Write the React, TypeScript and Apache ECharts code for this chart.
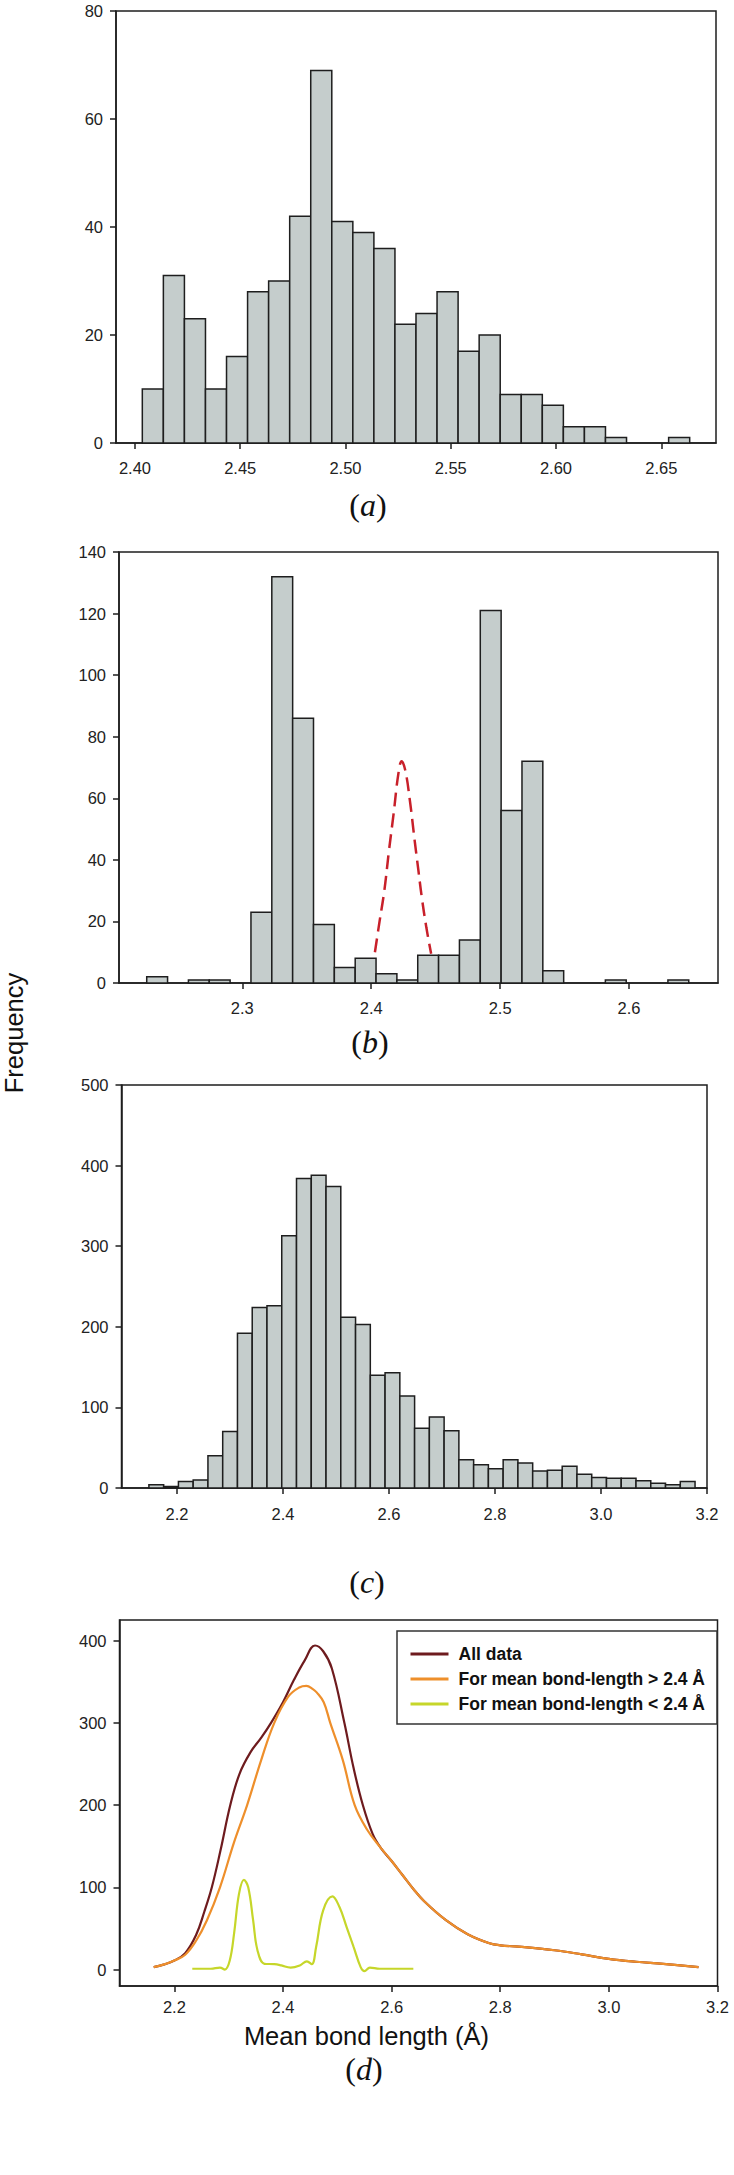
import React, { useEffect, useRef } from "react";
import * as echarts from "echarts";

// ---------- Panel (a) ----------
const aBinStart = 2.4035;
const aBinWidth = 0.01;
const aCounts = [10, 31, 23, 10, 16, 28, 30, 42, 69, 41, 39, 36, 22, 24, 28, 17, 20, 9, 9, 7, 3, 3, 1, 0, 0, 1];
const aXTicks = [2.4, 2.45, 2.5, 2.55, 2.6, 2.65];

// ---------- Panel (b) ----------
const bBinStart = 2.2259;
const bBinWidth = 0.01617;
const bCounts = [2, 0, 1, 1, 0, 23, 132, 86, 19, 5, 8, 3, 1, 9, 9, 14, 121, 56, 72, 4, 0, 0, 1, 0, 0, 1];
const bXTicks = [2.3, 2.4, 2.5, 2.6];
const bFitX = [2.4029, 2.4065, 2.4102, 2.4138, 2.4174, 2.4211, 2.4236, 2.4265, 2.4301, 2.4338, 2.4365, 2.4392, 2.4428, 2.4465];
const bFitY = [10, 20, 30, 43, 55, 68, 72, 69, 59, 46, 37, 28, 18, 9.5];

// ---------- Panel (c) ----------
const cBinStart = 2.147;
const cBinWidth = 0.02785;
const cCounts = [4, 2, 8, 10, 40, 70, 192, 224, 226, 313, 384, 388, 374, 212, 203, 140, 143, 114, 74, 88, 71, 35, 29, 24, 35, 31, 21, 22, 27, 17, 13, 12, 12, 9, 6, 4, 8];
const cXTicks = [2.2, 2.4, 2.6, 2.8, 3.0, 3.2];

// ---------- Panel (d) ----------
const dXTicks = [2.2, 2.4, 2.6, 2.8, 3.0, 3.2];
const dYTicks = [0, 100, 200, 300, 400];
const allX = [2.162, 2.18, 2.2, 2.22, 2.24, 2.255, 2.269, 2.285, 2.303, 2.32, 2.34, 2.36, 2.378, 2.4, 2.42, 2.44, 2.459, 2.474, 2.49, 2.513, 2.53, 2.547, 2.565, 2.58, 2.6, 2.62, 2.64, 2.66, 2.7, 2.74, 2.78, 2.8, 2.85, 2.9, 2.95, 3.0, 3.05, 3.1, 3.165];
const allY = [3, 6, 11, 20, 42, 70, 100, 145, 200, 238, 264, 282, 300, 325, 352, 376, 394, 387, 366, 300, 245, 200, 165, 148, 132, 115, 98, 83, 60, 43, 32, 29.5, 27, 23.5, 18.5, 13, 9.5, 7, 3];
const gtX = [2.162, 2.18, 2.2, 2.22, 2.24, 2.26, 2.284, 2.31, 2.334, 2.36, 2.384, 2.41, 2.43, 2.443, 2.455, 2.462, 2.475, 2.487, 2.51, 2.532, 2.555, 2.58, 2.6, 2.62, 2.64, 2.66, 2.7, 2.74, 2.78, 2.8, 2.85, 2.9, 2.95, 3.0, 3.05, 3.1, 3.165];
const gtY = [3, 6, 11, 18, 35, 60, 100, 155, 200, 255, 300, 332, 343, 345, 341, 337, 325, 300, 255, 200, 170, 148, 132, 115, 98, 83, 60, 43, 32, 29.5, 27, 23.5, 18.5, 13, 9.5, 7, 3];
const ltX = [2.233, 2.267, 2.284, 2.293, 2.302, 2.31, 2.319, 2.328, 2.336, 2.345, 2.353, 2.366, 2.384, 2.397, 2.414, 2.431, 2.444, 2.453, 2.461, 2.474, 2.491, 2.504, 2.517, 2.53, 2.543, 2.55, 2.56, 2.578, 2.64];
const ltY = [1, 1, 2.4, 0, 11, 44, 92, 109, 100, 60, 23.5, 7, 6.5, 5, 2.4, 5, 10, 6.5, 27.5, 72, 89, 76, 52, 27.5, 3, -2, 2.4, 1, 1];

const seriesNames = ["All data", "For mean bond-length > 2.4 \u00c5", "For mean bond-length < 2.4 \u00c5"];
const xTitle = "Mean bond length (\u00c5)";
const yTitle = "Frequency";

const FONT = "Arial, 'Liberation Sans', sans-serif";
const SERIF = "'Liberation Serif', 'Times New Roman', serif";
const BAR_FILL = "#c5cdcc";
const INK = "#1e1e1e";

function zip(xs: number[], ys: number[]) {
  return xs.map((x, i) => [x, ys[i]]);
}

function histSeries(idx: number, start: number, width: number, counts: number[]) {
  return {
    type: "custom",
    xAxisIndex: idx,
    yAxisIndex: idx,
    silent: true,
    data: counts.map((c, k) => [start + k * width, start + (k + 1) * width, c]),
    encode: { x: [0, 1], y: 2 },
    renderItem: (params: any, api: any) => {
      const x0 = api.value(0);
      const x1 = api.value(1);
      const v = api.value(2);
      if (!v) return { type: "group", children: [] };
      const p0 = api.coord([x0, v]);
      const p1 = api.coord([x1, 0]);
      return {
        type: "rect",
        shape: { x: p0[0], y: p0[1], width: p1[0] - p0[0], height: p1[1] - p0[1] },
        style: { fill: BAR_FILL, stroke: INK, lineWidth: 1.5 },
      };
    },
  };
}

function xAxis(idx: number, min: number, max: number, ticks: number[], digits: number, margin: number) {
  return {
    type: "value",
    gridIndex: idx,
    min,
    max,
    splitLine: { show: false },
    axisLine: { show: true, onZero: false, lineStyle: { color: INK, width: 1.5 } },
    axisTick: { show: true, inside: false, length: 6, customValues: ticks, lineStyle: { color: INK, width: 1.5 } },
    axisLabel: {
      show: true,
      customValues: ticks,
      margin,
      fontSize: 16.5,
      fontFamily: FONT,
      color: "#222",
      formatter: (v: number) => v.toFixed(digits),
    },
  };
}

function yAxis(idx: number, min: number, max: number, extra: any = {}) {
  return {
    type: "value",
    gridIndex: idx,
    min,
    max,
    splitLine: { show: false },
    axisLine: { show: true, onZero: false, lineStyle: { color: INK, width: 1.5 } },
    axisTick: { show: true, inside: false, length: 6, lineStyle: { color: INK, width: 1.5 } },
    axisLabel: { show: true, margin: 13, fontSize: 16.5, fontFamily: FONT, color: "#222" },
    ...extra,
  };
}

function panelLabel(letter: string, x: number, y: number) {
  return {
    type: "text",
    x,
    y,
    style: {
      text: "({i|" + letter + "})",
      font: "32px " + SERIF,
      fill: "#111",
      align: "center",
      verticalAlign: "middle",
      rich: { i: { fontStyle: "italic", fontSize: 32, fontFamily: SERIF, fill: "#111" } },
    },
  };
}

export default function App() {
  const ref = useRef<HTMLDivElement>(null);
  useEffect(() => {
    if (!ref.current) return;
    const chart = echarts.init(ref.current, null, { renderer: "svg" });
    const gridStyle = { show: true, borderColor: INK, borderWidth: 1.5, backgroundColor: "transparent", containLabel: false };
    const lineSeries = (name: string, xs: number[], ys: number[], color: string, z: number) => ({
      name,
      type: "line",
      xAxisIndex: 3,
      yAxisIndex: 3,
      data: zip(xs, ys),
      smooth: 0.4,
      symbol: "none",
      lineStyle: { color, width: 2.2 },
      itemStyle: { color, opacity: 0 },
      z,
    });
    const option: any = {
      animation: false,
      backgroundColor: "#ffffff",
      grid: [
        { ...gridStyle, left: 116, top: 11, width: 600, height: 432 },
        { ...gridStyle, left: 119, top: 552, width: 599, height: 431 },
        { ...gridStyle, left: 121.5, top: 1085, width: 585.5, height: 403 },
        { ...gridStyle, left: 119.5, top: 1620, width: 598, height: 366 },
      ],
      xAxis: [
        xAxis(0, 2.391, 2.676, aXTicks, 2, 16),
        xAxis(1, 2.2044, 2.669, bXTicks, 1, 16),
        xAxis(2, 2.0953, 3.2, cXTicks, 1, 17),
        xAxis(3, 2.099, 3.2, dXTicks, 1, 12),
      ],
      yAxis: [
        yAxis(0, 0, 80, { interval: 20 }),
        yAxis(1, 0, 140, { interval: 20 }),
        yAxis(2, 0, 500, { interval: 100 }),
        yAxis(3, -20, 425, {
          axisTick: { show: true, inside: false, length: 6, customValues: dYTicks, lineStyle: { color: INK, width: 1.5 } },
          axisLabel: { show: true, customValues: dYTicks, margin: 13, fontSize: 16.5, fontFamily: FONT, color: "#222" },
        }),
      ],
      legend: {
        show: true,
        data: seriesNames,
        orient: "vertical",
        left: 397,
        top: 1631,
        itemWidth: 38,
        itemHeight: 14,
        itemGap: 7,
        padding: [14, 12, 11, 12],
        borderColor: "#333",
        borderWidth: 1.5,
        backgroundColor: "#fff",
        selectedMode: false,
        itemStyle: { opacity: 0 },
        lineStyle: { width: 3 },
        textStyle: { fontSize: 17.5, fontWeight: "bold", fontFamily: FONT, color: "#111", padding: [0, 0, 0, 5] },
      },
      series: [
        histSeries(0, aBinStart, aBinWidth, aCounts),
        histSeries(1, bBinStart, bBinWidth, bCounts),
        {
          type: "line",
          xAxisIndex: 1,
          yAxisIndex: 1,
          data: zip(bFitX, bFitY),
          smooth: 0.4,
          symbol: "none",
          silent: true,
          lineStyle: { color: "#c8202a", width: 2.5, type: [14, 7] },
        },
        histSeries(2, cBinStart, cBinWidth, cCounts),
        lineSeries(seriesNames[0], allX, allY, "#6e1b1e", 3),
        lineSeries(seriesNames[1], gtX, gtY, "#ee8f2b", 4),
        lineSeries(seriesNames[2], ltX, ltY, "#c6d62a", 5),
      ],
      graphic: [
        panelLabel("a", 368, 505),
        panelLabel("b", 370, 1042),
        panelLabel("c", 367, 1582),
        panelLabel("d", 364, 2069),
        {
          type: "text",
          x: 366.5,
          y: 2036,
          style: { text: xTitle, font: "25.5px " + FONT, fill: "#111", align: "center", verticalAlign: "middle" },
        },
        {
          type: "text",
          x: 14,
          y: 1033,
          rotation: Math.PI / 2,
          style: { text: yTitle, font: "25.5px " + FONT, fill: "#111", align: "center", verticalAlign: "middle" },
        },
      ],
    };
    chart.setOption(option);
    return () => chart.dispose();
  }, []);
  return <div ref={ref} style={{ position: "absolute", left: 0, top: 0, width: 734, height: 2175, background: "#fff" }} />;
}
